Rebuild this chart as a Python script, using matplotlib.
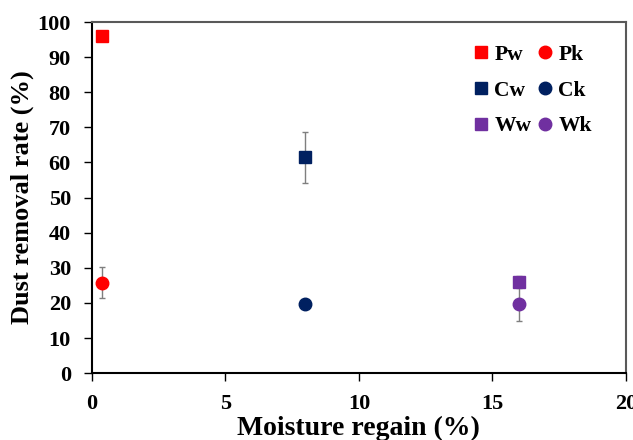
import matplotlib.pyplot as plt

plt.rcParams['font.family'] = 'Liberation Serif'
plt.rcParams['font.weight'] = 'bold'

labels = ['Pw', 'Pk', 'Cw', 'Ck', 'Ww', 'Wk']
x = [0.4, 0.4, 8, 8, 16, 16]
y = [96, 25.7, 61.5, 19.6, 26, 19.7]
err = [1.2, 4.4, 7.3, 0.8, 1.8, 4.9]
colors = ['#ff0000', '#ff0000', '#002060', '#002060', '#7030a0', '#7030a0']
markers = ['s', 'o', 's', 'o', 's', 'o']

fig = plt.figure(figsize=(6.33, 4.4), dpi=100)
ax = fig.add_axes([0.145, 0.152, 0.844, 0.798])

for i in range(len(labels)):
    ax.errorbar(x[i], y[i], yerr=err[i], fmt=markers[i], color=colors[i],
                markersize=9, ecolor='#7f7f7f', elinewidth=1, capsize=2,
                label=labels[i], zorder=3)

ax.set_xlim(0, 20)
ax.set_ylim(0, 100)
ax.set_xticks([0, 5, 10, 15, 20])
ax.set_yticks(range(0, 101, 10))
ax.tick_params(labelsize=16, direction='out', length=6, width=1, pad=9)
for lab in ax.get_xticklabels() + ax.get_yticklabels():
    lab.set_fontweight('bold')
ax.set_xlabel('Moisture regain (%)', fontsize=20, fontweight='bold')
ax.set_ylabel('Dust removal rate (%)', fontsize=19, fontweight='bold')
ax.xaxis.set_label_coords(0.5, -0.122)
ax.yaxis.set_label_coords(-0.108, 0.5)

for s in ax.spines.values():
    s.set_linewidth(1.5)
ax.spines['top'].set_color('#595959')
ax.spines['right'].set_color('#595959')

h, l = ax.get_legend_handles_labels()
order = [0, 2, 4, 1, 3, 5]
leg = ax.legend([h[i][0] for i in order], [l[i] for i in order], ncol=2,
                frameon=False, loc='upper right', fontsize=15.5,
                handletextpad=0.1, columnspacing=0.15, labelspacing=0.72,
                handlelength=1.0, markerscale=1.0, bbox_to_anchor=(0.972, 0.99))

fig.savefig('out.png', dpi=100)
